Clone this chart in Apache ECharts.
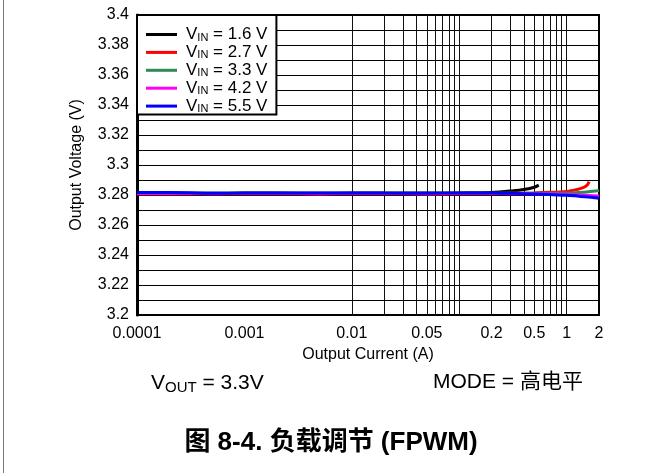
<!DOCTYPE html>
<html><head><meta charset="utf-8">
<script src="https://cdn.jsdelivr.net/npm/echarts@6/dist/echarts.min.js"></script>
<style>html,body{margin:0;padding:0;background:#fff}#c{width:662px;height:473px}</style>
</head><body><div id="c"></div>
<script>
const FONT = "'Liberation Sans', Arial, 'Noto Sans CJK SC', sans-serif";
const seriesNames = ['1.6', '2.7', '3.3', '4.2', '5.5'];
const seriesColors = ['#000000', '#ff0000', '#2e8b57', '#ff00ff', '#0000ff'];

const vin16Current = [0.0001,0.0002,0.0003,0.0005,0.001,0.002,0.005,0.01,0.02,0.05,0.1,0.2,0.25,0.3,0.4,0.5,0.55];
const vin16 = [3.2813,3.2814,3.2812,3.2812,3.2813,3.2813,3.2812,3.2813,3.2813,3.2813,3.2814,3.2816,3.2821,3.2826,3.2837,3.2852,3.2866];

const vin27Current = [0.0001,0.0002,0.0003,0.0005,0.001,0.002,0.005,0.01,0.02,0.05,0.1,0.2,0.3,0.5,0.7,1,1.1,1.2,1.4,1.55,1.62];
const vin27 = [3.2809,3.2809,3.2808,3.2808,3.2808,3.2808,3.2807,3.2808,3.2808,3.2807,3.2808,3.2809,3.2811,3.2814,3.2818,3.2824,3.2828,3.2834,3.2847,3.2866,3.2889];

const current = [0.0001,0.0002,0.0003,0.0005,0.001,0.002,0.005,0.01,0.02,0.05,0.1,0.2,0.3,0.5,0.7,1,1.3,1.6,2];
const vin33 = [3.2812,3.2813,3.2812,3.2811,3.2812,3.2812,3.2811,3.2812,3.2812,3.2811,3.2812,3.2812,3.2812,3.2812,3.2812,3.2813,3.2817,3.2822,3.2830];
const vin42 = [3.2810,3.2811,3.2810,3.2809,3.2810,3.2810,3.2809,3.2810,3.2810,3.2809,3.2810,3.2810,3.2809,3.2808,3.2806,3.2803,3.2800,3.2797,3.2793];
const vin55 = [3.2816,3.2817,3.2815,3.2812,3.2813,3.2814,3.2813,3.2814,3.2813,3.2812,3.2813,3.2813,3.2811,3.2807,3.2803,3.2798,3.2792,3.2786,3.2779];

const xTickValues = [0.0001, 0.001, 0.01, 0.05, 0.2, 0.5, 1, 2];
const xTickLabels = ['0.0001', '0.001', '0.01', '0.05', '0.2', '0.5', '1', '2'];
const xGridValues = [0.0002,0.0003,0.0004,0.0005,0.0006,0.0007,0.0008,0.0009,
  0.001,0.002,0.003,0.004,0.005,0.006,0.007,0.008,0.009,
  0.01,0.02,0.03,0.04,0.05,0.06,0.07,0.08,0.09,
  0.1,0.2,0.3,0.4,0.5,0.6,0.7,0.8,0.9,1];

const seriesCurrents = [vin16Current, vin27Current, current, current, current];
const seriesValues = [vin16, vin27, vin33, vin42, vin55];

const chart = echarts.init(document.getElementById('c'), null, {renderer: 'canvas'});

const dataSeries = seriesNames.map((n, i) => ({
  name: n,
  type: 'line',
  data: seriesCurrents[i].map((x, j) => [x, seriesValues[i][j]]),
  symbol: 'none',
  smooth: 0.3,
  z: 5 + i,
  lineStyle: {color: seriesColors[i], width: 3},
  itemStyle: {color: seriesColors[i]},
  animation: false
}));

const gridSeries = {
  name: 'grid',
  type: 'line',
  data: [],
  z: 1,
  silent: true,
  animation: false,
  markLine: {
    silent: true,
    symbol: 'none',
    animation: false,
    label: {show: false},
    lineStyle: {color: '#111', width: 1, type: 'solid'},
    emphasis: {disabled: true},
    data: xGridValues.map(v => ({xAxis: v}))
  }
};

chart.setOption({
  animation: false,
  backgroundColor: '#fff',
  grid: {left: 137, right: 63, top: 15, bottom: 158, show: true, borderColor: '#000', borderWidth: 2, backgroundColor: 'transparent'},
  xAxis: {
    type: 'log', logBase: 10, min: 0.0001, max: 2,
    name: 'Output Current (A)', nameLocation: 'middle', nameGap: 30,
    nameTextStyle: {fontFamily: FONT, fontSize: 16, color: '#000'},
    axisLine: {show: true, lineStyle: {color: '#000', width: 2}},
    axisTick: {show: false},
    splitLine: {show: false},
    axisLabel: {
      customValues: xTickValues,
      fontFamily: FONT, fontSize: 16, color: '#000', margin: 11,
      formatter: function (v) {
        for (let k = 0; k < xTickValues.length; k++) {
          if (Math.abs(Math.log10(v) - Math.log10(xTickValues[k])) < 1e-6) return xTickLabels[k];
        }
        return '';
      }
    }
  },
  yAxis: {
    type: 'value', min: 3.2, max: 3.4, interval: 0.02,
    name: 'Output Voltage (V)', nameLocation: 'middle', nameGap: 52,
    nameTextStyle: {fontFamily: FONT, fontSize: 16, color: '#000'},
    axisLine: {show: true, lineStyle: {color: '#000', width: 3}},
    axisTick: {show: false},
    axisLabel: {fontFamily: FONT, fontSize: 16, color: '#000', margin: 8,
      formatter: function (v) { return String(Math.round(v * 100) / 100); }},
    splitLine: {show: true, lineStyle: {color: '#000', width: 1}},
    minorTick: {show: false, splitNumber: 2},
    minorSplitLine: {show: true, lineStyle: {color: '#000', width: 1}}
  },
  legend: {
    data: seriesNames,
    orient: 'vertical', left: 137, top: 15,
    backgroundColor: '#fff', borderColor: '#000', borderWidth: 2, borderRadius: 0,
    padding: [11, 9, 0, 9], itemGap: 0.9, itemWidth: 31, itemHeight: 3, icon: 'rect',
    selectedMode: false,
    formatter: function (n) { return '{v0|V}{s|IN}{v| = ' + n + ' V}'; },
    textStyle: {
      fontFamily: FONT, color: '#000',
      rich: {
        v0: {fontFamily: FONT, fontSize: 17, color: '#000', lineHeight: 17, padding: [0, 0, 0, 4]},
        v: {fontFamily: FONT, fontSize: 17, color: '#000', lineHeight: 17},
        s: {fontFamily: FONT, fontSize: 11, color: '#000', lineHeight: 11, padding: [6, 0, 0, 0]}
      }
    }
  },
  graphic: [
    {type: 'line', shape: {x1: 3.5, y1: 0, x2: 3.5, y2: 473}, style: {stroke: '#777', lineWidth: 1}, silent: true},
    {type: 'text', left: 151, top: 371, silent: true, style: {
      text: '{v|V}{s|OUT}{v| = 3.3V}',
      rich: {v: {fontFamily: FONT, fontSize: 21, fill: '#000', lineHeight: 24}, s: {fontFamily: FONT, fontSize: 15, fill: '#000', lineHeight: 24, padding: [9, 0, 0, 0]}}
    }},
    {type: 'text', left: 433, top: 372, silent: true, style: {
      text: 'MODE = 高电平', font: '21px ' + FONT, fill: '#000'
    }},
    {type: 'text', left: 'center', top: 430, silent: true, style: {
      text: '图 8-4. 负载调节 (FPWM)', font: 'bold 26px ' + FONT, fill: '#000'
    }}
  ],
  series: [gridSeries].concat(dataSeries)
});
</script>
</body></html>
